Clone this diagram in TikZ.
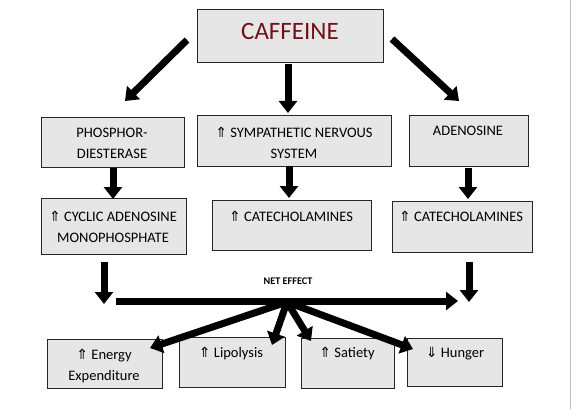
\documentclass[tikz,border=0pt]{standalone}
\usepackage{fontspec}
\setmainfont{Carlito}
\newfontfamily\symfont{DejaVu Sans}
\usetikzlibrary{arrows.meta}
\definecolor{boxfill}{RGB}{231,230,230}
\definecolor{caffred}{RGB}{115,18,22}
\newcommand{\upar}{{\symfont\fontsize{14}{14}\selectfont ⇑}}
\newcommand{\dnar}{{\symfont\fontsize{14}{14}\selectfont ⇓}}
\newcommand{\lines}[1]{\setlength{\tabcolsep}{0pt}\renewcommand{\arraystretch}{1}\begin{tabular}[t]{c}#1\end{tabular}}
\tikzset{
  box/.style={draw=black!85, line width=0.9pt, fill=boxfill, anchor=north west, inner sep=0pt},
  txt/.style={font=\fontsize{14.5}{21}\selectfont, inner sep=0pt, anchor=base},
  bigarrow/.style={line width=7pt, -{Triangle[width=18pt,length=12pt]}},
}
\begin{document}
\begin{tikzpicture}[x=1pt,y=-1pt]
\useasboundingbox (0,0) rectangle (572,409);
\draw[black!25, line width=0.8pt] (570,0) -- (570,409);

% boxes
\node[box, minimum width=186pt, minimum height=53pt] (caf) at (197,9) {};
\node[font=\fontsize{25}{25}\selectfont, text=caffred, inner sep=0pt] (caft) at (290,31) {CAFFEINE};

\node[box, minimum width=143pt, minimum height=50pt] (pho) at (41,117) {};
\node[txt] (phot) at (112,137) {\lines{PHOSPHOR-\\DIESTERASE}};

\node[box, minimum width=194pt, minimum height=51pt] (sym) at (197,115) {};
\node[txt] (symt) at (294,137) {\lines{\upar{} SYMPATHETIC NERVOUS\\SYSTEM}};

\node[box, minimum width=119pt, minimum height=51pt] (ade) at (409,115) {};
\node[txt] (adet) at (468,135) {ADENOSINE};

\node[box, minimum width=145pt, minimum height=56pt] (cyc) at (41,198) {};
\node[txt] (cyct) at (113,221) {\lines{\upar{} CYCLIC ADENOSINE\\MONOPHOSPHATE}};

\node[box, minimum width=159pt, minimum height=50pt] (cat1) at (212,200) {};
\node[txt] (cat1t) at (291,221) {\upar{} CATECHOLAMINES};

\node[box, minimum width=140pt, minimum height=51pt] (cat2) at (392,201) {};
\node[txt] (cat2t) at (461,221) {\upar{} CATECHOLAMINES};

\node[box, minimum width=115pt, minimum height=49pt] (ene) at (47,339) {};
\node[txt] (enet) at (104,359) {\lines{\upar{} Energy\\Expenditure}};

\node[box, minimum width=106pt, minimum height=50pt] (lip) at (179,337) {};
\node[txt] (lipt) at (231,357) {\upar{} Lipolysis};

\node[box, minimum width=93pt, minimum height=50pt] (sat) at (301,338) {};
\node[txt] (satt) at (347,357) {\upar{} Satiety};

\node[box, minimum width=95pt, minimum height=48pt] (hun) at (407,338) {};
\node[txt] (hunt) at (455,357) {\dnar{} Hunger};

\node[font=\bfseries\fontsize{10.2}{10.2}\selectfont, inner sep=0pt] (net) at (288,281) {NET EFFECT};

% arrow coordinates
\coordinate (a1s) at (187,40);  \coordinate (a1e) at (125,101);
\coordinate (a2s) at (288,64);  \coordinate (a2e) at (288,113);
\coordinate (a3s) at (392,39);  \coordinate (a3e) at (459,101);
\coordinate (b1s) at (113,168); \coordinate (b1e) at (113,199);
\coordinate (b2s) at (289,166); \coordinate (b2e) at (289,198);
\coordinate (b3s) at (468,168); \coordinate (b3e) at (468,199);
\coordinate (c1s) at (104,262); \coordinate (c1e) at (104,304);
\coordinate (c2s) at (469,262); \coordinate (c2e) at (469,302);
\coordinate (hs) at (116,301);  \coordinate (he) at (458,301);
\coordinate (o) at (287,302);
\coordinate (f1) at (150,348);
\coordinate (f2) at (272,345);
\coordinate (f3) at (311,341);
\coordinate (f4) at (413,349);

\foreach \s/\e in {a1s/a1e,a2s/a2e,a3s/a3e,b1s/b1e,b2s/b2e,b3s/b3e,c1s/c1e,c2s/c2e,hs/he}
  \draw[bigarrow] (\s) -- (\e);
\foreach \e in {f1,f2,f3,f4}
  \draw[bigarrow] (o) -- (\e);
\end{tikzpicture}
\end{document}
